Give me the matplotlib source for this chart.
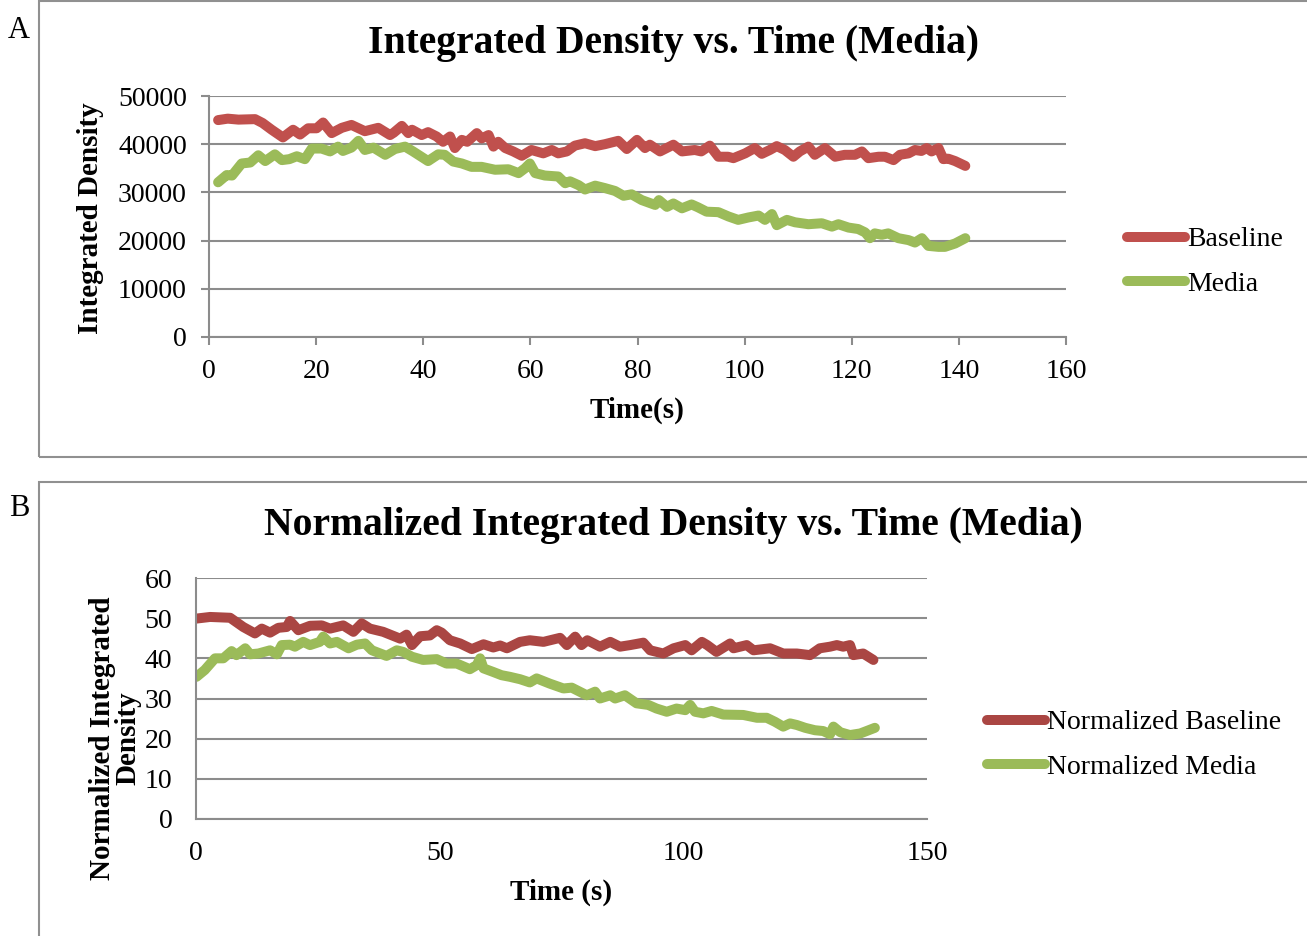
import matplotlib
matplotlib.use("Agg")
import matplotlib.pyplot as plt
from matplotlib.patches import Rectangle

# panel A data (time in s, integrated density)
base_t = [1.7, 3.5, 5.5, 8.6, 10, 11.7, 13.8, 15.7, 17, 18.5, 20.1, 21.3, 22.9, 24.8, 26.6, 29.1,
          31.6, 33.8, 34.5, 36, 37.2, 37.9, 39.7, 40.9, 42.5, 43.7, 45, 45.9, 47.2, 48.2, 50, 50.9,
          52.2, 53.1, 54, 55.3, 56.8, 58.4, 60.2, 62.4, 64, 65.2, 66.8, 68.3, 70.2, 72.1, 73.9, 76.4,
          78, 79.9, 81.4, 82.3, 84.2, 86.7, 88.3, 90.7, 91.9, 93.5, 95.1, 96.9, 97.9, 100.1, 101.9,
          103.2, 104.7, 106, 107.5, 109.1, 110.3, 111.9, 113.1, 115, 116.9, 118.7, 120.6, 121.9,
          123.1, 125, 126.2, 127.8, 129, 130.6, 131.8, 133, 134, 134.9, 136.2, 137.1, 138, 139.3, 141.2]
base_v = [45000, 45300, 45100, 45200, 44400, 43000, 41400, 43000, 42000, 43300, 43300, 44500, 42300,
          43400, 44000, 42700, 43400, 41900, 42400, 43800, 42300, 43000, 41900, 42500, 41600, 40500,
          41600, 39200, 40900, 40500, 42300, 41200, 41900, 39500, 40500, 39200, 38500, 37600, 38800,
          38100, 38800, 38100, 38500, 39700, 40200, 39600, 40000, 40700, 39000, 40900, 39200, 39900,
          38500, 39900, 38500, 38800, 38500, 39700, 37400, 37400, 37100, 38100, 39200, 38000, 38800,
          39600, 38800, 37400, 38500, 39500, 37800, 39200, 37400, 37800, 37800, 38500, 37100, 37400,
          37400, 36700, 37800, 38100, 38800, 38600, 39200, 38500, 39200, 36900, 37000, 36500, 35500]

media_t = [1.7, 3.3, 4.3, 6.1, 7.7, 9.2, 10.5, 12.3, 13.6, 15, 16.4, 17.9, 19.2, 21, 22.6, 24.1, 25,
           26.6, 27.9, 29.1, 30.7, 32.9, 34.7, 36.6, 38.1, 40.9, 42.8, 44, 45.6, 47.2, 49, 50.9, 53.4,
           55.9, 57.8, 59, 59.9, 60.9, 62.7, 65.2, 66.5, 67.4, 69, 70.2, 72.1, 73.9, 75.8, 77.4, 78.9,
           80.8, 83.3, 84, 85.5, 86.7, 88.3, 90.1, 91.3, 92.9, 95.1, 97, 98.8, 100.7, 102.6, 103.8,
           105.1, 106, 107.9, 109.4, 111.9, 114.4, 116.3, 117.5, 119.4, 121.2, 122.5, 123.4, 124.3,
           125.6, 126.8, 128.7, 130.6, 131.8, 133.1, 134.3, 136.2, 137.4, 139.3, 141.2]
media_v = [32100, 33600, 33500, 36000, 36200, 37700, 36500, 37900, 36700, 36900, 37500, 36900, 39100,
           39100, 38500, 39500, 38600, 39300, 40700, 38800, 39300, 37800, 39000, 39500, 38500, 36500,
           37900, 37800, 36400, 36000, 35300, 35300, 34700, 34800, 34000, 35000, 36000, 34000, 33500,
           33300, 31900, 32300, 31500, 30600, 31400, 30900, 30300, 29300, 29600, 28400, 27400, 28400,
           27000, 27700, 26700, 27500, 26900, 26000, 25900, 25000, 24300, 24800, 25200, 24300, 25500,
           23200, 24300, 23800, 23400, 23600, 22900, 23400, 22700, 22400, 21700, 20500, 21500, 21200,
           21500, 20500, 20100, 19600, 20500, 18900, 18700, 18700, 19400, 20500]

# panel B data (normalized)
nbase_t = [0.1, 2.9, 7, 9.7, 12.1, 13.5, 15.2, 16.9, 18.6, 19.3, 21, 23.4, 25.8, 27.5, 30.2, 32.3, 34,
           35.7, 38.4, 41.9, 43.2, 44.3, 46, 48, 49.4, 50.4, 52.1, 54.2, 56.6, 59, 61, 62.4, 63.8,
           66.5, 68.5, 71.3, 74.7, 76.1, 77.8, 79.1, 80.3, 82.9, 85, 87, 89.1, 91.8, 93.2, 95.9, 98,
           100.4, 101.7, 103.8, 104.9, 106.8, 109.6, 110.3, 113, 114.4, 117.8, 120.5, 123.3, 126, 128,
           130.1, 131.5, 132.8, 134.2, 134.9, 136.9, 139]
nbase_v = [49.9, 50.3, 50.1, 47.8, 46.2, 47.4, 46.4, 47.6, 47.8, 49.3, 47.0, 48.1, 48.2, 47.4, 48.2,
           46.6, 48.7, 47.4, 46.6, 44.9, 45.9, 43.3, 45.5, 45.7, 47.0, 46.4, 44.5, 43.7, 42.3, 43.5,
           42.7, 43.2, 42.5, 44.1, 44.5, 44.1, 45.1, 43.3, 45.4, 43.3, 44.5, 42.9, 44.1, 42.9, 43.3,
           43.9, 42.0, 41.2, 42.5, 43.3, 42.0, 44.1, 43.3, 41.6, 43.7, 42.5, 43.3, 42.0, 42.5, 41.2,
           41.2, 40.8, 42.5, 42.9, 43.3, 42.9, 43.3, 40.8, 41.2, 39.6]

nmedia_t = [0.1, 1.8, 3.9, 5.6, 7.3, 8.3, 10.1, 11.1, 12.8, 15.2, 16.6, 17.6, 19.3, 20.3, 22, 23.4,
            25.4, 26.1, 27.5, 28.9, 31.3, 33, 34.7, 36.1, 39.1, 41.2, 42.5, 44.3, 46.6, 49.4, 51.4,
            53.5, 56.2, 57.6, 58.3, 59, 61, 62.7, 64.4, 66.5, 68.5, 69.9, 72.6, 75.4, 77.1, 80.2, 81.9,
            82.9, 85, 86, 88, 90.4, 92.8, 94.5, 96.6, 98.6, 100.4, 101.4, 102.4, 104.1, 105.8, 108.2,
            112.3, 115.1, 117.1, 118.8, 120.5, 121.9, 123.3, 125, 127, 128.7, 130.1, 130.8, 132.2,
            134.2, 136.3, 137.6, 139.3]
nmedia_v = [35.4, 37.1, 40.0, 40.0, 41.8, 40.8, 42.5, 41.0, 41.2, 42.0, 41.0, 43.3, 43.4, 42.9, 44.1,
            43.3, 44.1, 45.4, 43.7, 44.1, 42.5, 43.4, 43.7, 42.0, 40.6, 42.0, 41.6, 40.4, 39.6, 39.8,
            38.7, 38.7, 37.3, 38.3, 40.0, 37.5, 36.6, 35.8, 35.4, 34.8, 34.0, 35.0, 33.7, 32.5, 32.7,
            30.8, 31.7, 30.0, 30.8, 30.0, 30.8, 28.8, 28.4, 27.5, 26.7, 27.5, 27.1, 28.4, 26.7, 26.3,
            26.9, 26.0, 25.9, 25.2, 25.2, 24.2, 23.0, 23.8, 23.4, 22.7, 22.1, 21.9, 21.1, 23.0, 21.6,
            20.9, 21.3, 21.9, 22.7]

W, H = 1307, 936
fig = plt.figure(figsize=(W / 100, H / 100), dpi=100)
plt.rcParams['font.family'] = ['Liberation Serif', 'DejaVu Serif']
grid_c = '#8c8c8c'
tick_fs = 20
lab_fs = 21
title_fs = 28.5
leg_fs = 20
lw = 7.2


def fx(px):
    return px / W


def fy(py):
    return 1 - py / H


# panel frames
fig.patches.append(Rectangle((fx(39), fy(457)), fx(1320) - fx(39), fy(0.5) - fy(457),
                             transform=fig.transFigure, fill=False, ec='#909090', lw=1.5))
fig.patches.append(Rectangle((fx(39), fy(950)), fx(1320) - fx(39), fy(482) - fy(950),
                             transform=fig.transFigure, fill=False, ec='#909090', lw=1.5))
fig.text(fx(19), fy(30), 'A', fontsize=22, ha='center', va='center')
fig.text(fx(19), fy(508), 'B', fontsize=22, ha='center', va='center')


def style(ax, ticklen):
    for s in ['top', 'right']:
        ax.spines[s].set_visible(False)
    for s in ['left', 'bottom']:
        ax.spines[s].set_color(grid_c)
        ax.spines[s].set_linewidth(1.5)
    ax.grid(axis='y', color=grid_c, lw=1.5)
    ax.set_axisbelow(True)
    ax.tick_params(labelsize=tick_fs, colors=grid_c, labelcolor='black', length=ticklen, width=1.5)


# panel A
axA = fig.add_axes([fx(209), fy(337), fx(1066) - fx(209), fy(96) - fy(337)])
style(axA, 6)
axA.plot(base_t, base_v, color='#C0504D', lw=lw, solid_capstyle='round', solid_joinstyle='round',
         label='Baseline')
axA.plot(media_t, media_v, color='#9BBB59', lw=lw, solid_capstyle='round', solid_joinstyle='round',
         label='Media')
axA.set_xlim(0, 160)
axA.set_ylim(0, 50000)
axA.set_xticks(range(0, 161, 20))
axA.set_yticks(range(0, 50001, 10000))
axA.tick_params(axis='x', pad=10)
axA.tick_params(axis='y', pad=10)
fig.text(fx(673), fy(43), 'Integrated Density vs. Time (Media)', fontsize=title_fs, fontweight='bold',
         ha='center', va='center')
fig.text(fx(637), fy(410), 'Time(s)', fontsize=lab_fs, fontweight='bold', ha='center', va='center')
fig.text(fx(90), fy(218), 'Integrated Density', fontsize=lab_fs, fontweight='bold', rotation=90,
         ha='center', va='center')
axA.legend(loc='center left', bbox_to_anchor=(fx(1127), fy(262)), bbox_transform=fig.transFigure,
           frameon=False, fontsize=leg_fs, handlelength=2.1, handletextpad=0.05, labelspacing=0.7,
           borderpad=0, borderaxespad=0)

# panel B
axB = fig.add_axes([fx(196), fy(819), fx(927) - fx(196), fy(578) - fy(819)])
style(axB, 0)
axB.plot(nbase_t, nbase_v, color='#AA4643', lw=lw, solid_capstyle='round', solid_joinstyle='round',
         label='Normalized Baseline')
axB.plot(nmedia_t, nmedia_v, color='#9BBB59', lw=lw, solid_capstyle='round', solid_joinstyle='round',
         label='Normalized Media')
axB.set_xlim(0, 150)
axB.set_ylim(0, 60)
axB.set_xticks([0, 50, 100, 150])
axB.set_yticks(range(0, 61, 10))
axB.tick_params(axis='x', pad=16)
axB.tick_params(axis='y', pad=17)
fig.text(fx(673), fy(525), 'Normalized Integrated Density vs. Time (Media)', fontsize=title_fs,
         fontweight='bold', ha='center', va='center')
fig.text(fx(561), fy(892), 'Time (s)', fontsize=lab_fs, fontweight='bold', ha='center', va='center')
fig.text(fx(115), fy(738), 'Normalized Integrated\nDensity', fontsize=lab_fs, fontweight='bold',
         rotation=90, ha='center', va='center', multialignment='center', linespacing=0.9)
axB.legend(loc='center left', bbox_to_anchor=(fx(987), fy(745)), bbox_transform=fig.transFigure,
           frameon=False, fontsize=leg_fs, handlelength=2.1, handletextpad=0.05, labelspacing=0.7,
           borderpad=0, borderaxespad=0)

fig.savefig('out.png', dpi=100)
